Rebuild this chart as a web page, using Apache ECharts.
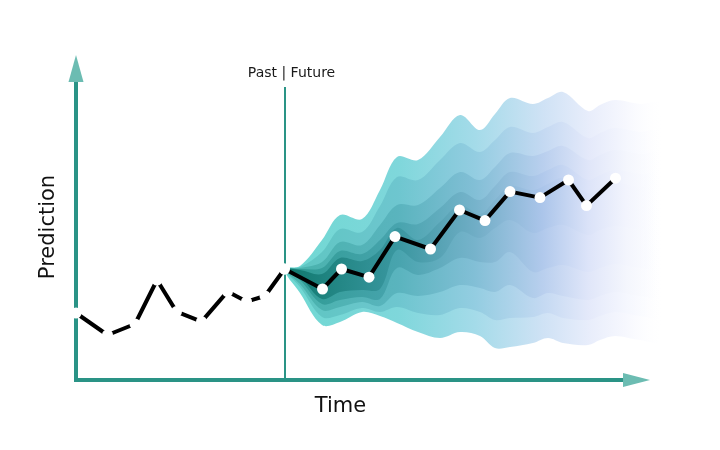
<!DOCTYPE html>
<html>
<head>
<meta charset="utf-8">
<script src="https://cdn.jsdelivr.net/npm/echarts@6/dist/echarts.min.js"></script>
<style>html,body{margin:0;padding:0;background:#fff}#c{width:720px;height:450px}</style>
</head>
<body>
<div id="c"></div>
<script>
// ---- data ----
const pastTime = [0, 6.3, 11.8, 16.2, 20.1, 25.1, 30.3, 34.1, 37.8, 41.7];
const pastValue = [33.5, 22.5, 28, 50, 34.2, 29.2, 44.2, 39.2, 42, 55.5];
const futureTime = [41.7, 49.3, 53.1, 58.6, 63.8, 70.9, 76.7, 81.8, 86.8, 92.8, 98.5, 102.1, 107.9];
const futureValue = [55.5, 45.5, 55.5, 51.4, 71.7, 65.5, 85, 79.7, 94.2, 91.2, 100, 87.2, 100.9];
const nowTime = 41.7;
const nowTop = 146.5;

const bandTime = [41.7, 44.8, 49.2, 52.8, 57.2, 60.8, 64.2, 68.4, 72.8, 76.8, 80.8, 83.8, 86.8, 91.4, 94.4, 97.4, 102.4, 104.8, 107.8, 112.8, 116.8];
const q95 = [55.5, 57, 70, 82.5, 80.5, 95, 111.5, 110, 121.5, 132.5, 125, 133, 141, 138, 141, 144, 134.5, 137.5, 140, 138, 138];
const q90 = [55.5, 56.5, 64, 75.5, 74, 87, 101.5, 100, 110, 118.5, 114, 120, 126.5, 123.5, 126.5, 129, 121, 123.5, 126, 124, 124];
const q80 = [55.5, 56, 59, 69, 67.5, 77.5, 87.5, 87.5, 96, 104, 100, 106.5, 113.5, 112, 114.5, 117, 110, 112.5, 115, 113, 113];
const q70 = [55.5, 55.5, 56, 64.5, 63, 70, 78.5, 78, 86, 94, 90, 97, 104, 102, 105, 107.5, 100, 102.5, 105, 103, 103];
const q60 = [55.5, 55, 53, 61, 59.5, 65, 76, 70, 79, 87.5, 83, 90, 97, 95, 98, 101, 93.5, 96, 98.5, 96.5, 96.5];
const q40 = [55.5, 51.5, 40.5, 44, 45, 45.5, 65, 59, 61, 74, 71, 76, 80, 73.5, 76, 77.5, 72.5, 75, 77, 75, 75];
const q30 = [55.5, 50, 38, 40, 41.5, 40.5, 56, 52.5, 56, 61, 59, 59, 64, 54, 56, 57.5, 54, 56, 58, 56, 56];
const q20 = [55.5, 48, 35, 36.5, 39, 37, 43.5, 42, 44, 47.5, 46, 44, 47.5, 41, 43.5, 42, 40, 42, 44, 42, 42];
const q10 = [55.5, 46.5, 31.5, 32.5, 36, 34, 36.5, 33.5, 32.5, 36, 34, 30, 31, 31.5, 33.5, 31, 30, 32, 34, 32, 32];
const q05 = [55.5, 43.5, 27.5, 29, 34, 32, 28.5, 24, 21, 24, 22, 16, 16.5, 18.5, 21, 18.5, 17.5, 20, 22, 20, 20];

const bandUppers = [q95, q90, q80, q70, q60];
const bandLowers = [q05, q10, q20, q30, q40];
const gradientStops = [0, 0.3, 0.5, 0.68, 0.8, 0.9, 1];
const bandColors = [
  ['#6fd8d2', '#7fd7db', '#a4dbe9', '#cfe2f5', '#e8edfb', '#f7f8fe', 'rgba(255,255,255,0)'],
  ['#5cc6c0', '#6ec6cf', '#93cde1', '#c4d9f2', '#e4e9fa', '#f5f7fe', 'rgba(255,255,255,0)'],
  ['#46b2aa', '#5ab4be', '#82bfd6', '#b9cfee', '#e0e6f9', '#f4f6fd', 'rgba(255,255,255,0)'],
  ['#2d9b92', '#48a4ae', '#76b3cb', '#b1c9ec', '#dde4f9', '#f3f5fd', 'rgba(255,255,255,0)'],
  ['#0f786d', '#3a97a0', '#6fadc5', '#abc5ea', '#dae2f8', '#f2f4fd', 'rgba(255,255,255,0)']
];

const axisDark = '#2a9386';
const axisLight = '#6cbcb2';
const fontFamily = 'DejaVu Sans';

// ---- build ----
const chart = echarts.init(document.getElementById('c'), null, {renderer: 'canvas'});
const series = [];

series.push({
  type: 'custom', silent: true, z: 1, xAxisIndex: 0, yAxisIndex: 0,
  data: bandUppers.map((u, k) => [bandTime[0], u[0], k]),
  renderItem: function (params, api) {
    const k = api.value(2);
    const up = bandUppers[k], low = bandLowers[k];
    const pts = [];
    for (let i = 0; i < bandTime.length; i++) pts.push(api.coord([bandTime[i], up[i]]));
    for (let i = bandTime.length - 1; i >= 1; i--) pts.push(api.coord([bandTime[i], low[i]]));
    return {
      type: 'polygon',
      shape: {points: pts, smooth: 0.35},
      style: {
        fill: new echarts.graphic.LinearGradient(0, 0, 1, 0,
          gradientStops.map((s, j) => ({offset: s, color: bandColors[k][j]}))),
        stroke: null
      }
    };
  }
});

series.push({
  type: 'line', z: 5, xAxisIndex: 0, yAxisIndex: 0,
  data: pastTime.map((t, i) => [t, pastValue[i]]),
  lineStyle: {color: '#000', width: 4},
  symbol: 'circle', symbolSize: 11, showAllSymbol: true,
  itemStyle: {color: '#fff', borderWidth: 0},
  markLine: {
    silent: true, symbol: 'none',
    lineStyle: {color: '#2a9486', width: 2, type: 'solid'},
    label: {show: true, position: 'end', formatter: 'Past | Future', distance: 7,
      color: '#1a1a1a', fontSize: 14, fontFamily: fontFamily, padding: [0, 0, 0, 14]},
    data: [[{coord: [nowTime, 0]}, {coord: [nowTime, nowTop]}]]
  }
});
series.push({
  type: 'line', z: 6, xAxisIndex: 0, yAxisIndex: 0,
  data: futureTime.map((t, i) => [t, futureValue[i]]),
  lineStyle: {color: '#000', width: 4},
  symbol: 'circle', symbolSize: 11, showAllSymbol: true,
  itemStyle: {color: '#fff', borderWidth: 0}
});

const hidden = {axisTick: {show: false}, axisLabel: {show: false}, splitLine: {show: false}};
chart.setOption({
  animation: false,
  backgroundColor: '#fff',
  grid: {left: 76, right: 97, top: 82, bottom: 70},
  xAxis: [
    Object.assign({type: 'value', min: 0, max: 109.4, position: 'bottom',
      axisLine: {show: true, onZero: false, symbol: ['none', 'triangle'], symbolSize: [14, 27], symbolOffset: [0, 13.5],
        lineStyle: {color: axisLight, width: 4}},
      name: 'Time', nameLocation: 'middle', nameGap: 16,
      nameTextStyle: {color: '#111', fontSize: 21, fontFamily: fontFamily, padding: [0, 18, 0, 0]}}, hidden),
    Object.assign({type: 'value', min: 0, max: 109.4, position: 'bottom',
      axisLine: {show: true, onZero: false, lineStyle: {color: axisDark, width: 4, cap: 'square'}}}, hidden)
  ],
  yAxis: [
    Object.assign({type: 'value', min: 0, max: 149, position: 'left',
      axisLine: {show: true, onZero: false, symbol: ['none', 'triangle'], symbolSize: [15, 27], symbolOffset: [0, 13.5],
        lineStyle: {color: axisLight, width: 4}},
      name: 'Prediction', nameLocation: 'middle', nameGap: 17, nameRotate: 90,
      nameTextStyle: {color: '#111', fontSize: 21, fontFamily: fontFamily, padding: [0, 0, 0, 8]}}, hidden),
    Object.assign({type: 'value', min: 0, max: 149, position: 'left',
      axisLine: {show: true, onZero: false, lineStyle: {color: axisDark, width: 4, cap: 'square'}}}, hidden)
  ],
  series: series
});
</script>
</body>
</html>
